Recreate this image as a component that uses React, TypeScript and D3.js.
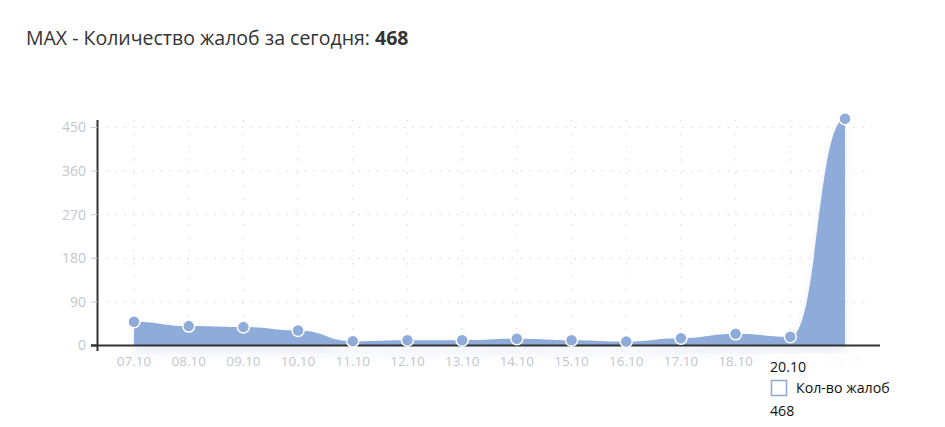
import React from "react";
import * as d3 from "d3";

const categories = ["07.10", "08.10", "09.10", "10.10", "11.10", "12.10", "13.10", "14.10", "15.10", "16.10", "17.10", "18.10", "19.10", "20.10"];
const complaints = [49, 40, 38, 31, 9, 11, 11, 14, 11, 8, 15, 24, 18, 468];
const yTicks = [0, 90, 180, 270, 360, 450];
const titleText = "MAX - Количество жалоб за сегодня: ";
const titleValue = "468";
const seriesName = "Кол-во жалоб";
const tooltipIndex = 13;

const W = 945;
const H = 427;
const BLUE = "#8eabd9";
const FONT = "'Open Sans', sans-serif";

export default function App() {
  const x = d3.scalePoint<string>().domain(categories).range([134, 845]);
  const y = d3.scaleLinear().domain([0, 450]).range([345.5, 127.5]);
  const pts = categories.map((c, i) => ({ c, v: complaints[i] }));
  const area = d3
    .area<{ c: string; v: number }>()
    .x((d) => x(d.c) as number)
    .y0(y(0))
    .y1((d) => y(d.v))
    .curve(d3.curveBumpX);

  const left = 97.5;
  const right = 872;
  return (
    <svg width={W} height={H} style={{ position: "absolute", left: 0, top: 0, display: "block" }} fontFamily={FONT}>
      <defs>
        <filter id="blur" x="-10%" y="-10%" width="120%" height="130%">
          <feGaussianBlur stdDeviation="5" />
        </filter>
      </defs>
      <rect width={W} height={H} fill="#fff" />
      <text x={26} y={45} fontSize={19.5} fill="#333">
        {titleText}
        <tspan fontWeight="bold">{titleValue}</tspan>
      </text>
      {/* grid */}
      {yTicks.filter((t) => t > 0).map((t) => (
        <line key={"h" + t} x1={left} x2={right} y1={y(t)} y2={y(t)} stroke="#dcdcdc" strokeWidth={1.2} strokeDasharray="1.5,7.5" />
      ))}
      {categories.map((c) => (
        <line key={"v" + c} x1={x(c)} x2={x(c)} y1={120} y2={345} stroke="#dcdcdc" strokeWidth={1.2} strokeDasharray="1.5,11.5" />
      ))}
      {/* shadow */}
      <path d={area(pts) || ""} fill="#7f96c8" opacity={0.18} transform="translate(0,7)" filter="url(#blur)" />
      {/* area */}
      <path d={area(pts) || ""} fill={BLUE} />
      {/* axes */}
      <line x1={91} x2={880} y1={345.5} y2={345.5} stroke="#333" strokeWidth={2} />
      <line x1={left} x2={left} y1={120} y2={351} stroke="#333" strokeWidth={2} />
      {yTicks.map((t) => (
        <g key={"yt" + t}>
          <line x1={91} x2={left} y1={y(t)} y2={y(t)} stroke={t === 0 ? "#333" : "#ccc"} strokeWidth={t === 0 ? 2 : 1} />
          <text x={86} y={y(t)} dy="0.35em" textAnchor="end" fontSize={14} fill="#c3c6cd">
            {t}
          </text>
        </g>
      ))}
      {categories.map((c) => (
        <text key={"xl" + c} x={x(c)} y={366} textAnchor="middle" fontSize={13.5} fill="#c3c6cd">
          {c}
        </text>
      ))}
      {/* points */}
      {pts.map((d) => (
        <circle key={"p" + d.c} cx={x(d.c)} cy={y(d.v)} r={6} fill={BLUE} stroke="#fff" strokeWidth={1.5} />
      ))}
      {/* tooltip */}
      <g>
        <rect x={762} y={354} width={145} height={73} fill="#fff" fillOpacity={0.9} />
        <text x={770} y={372} fontSize={14.2} fill="#111">
          {categories[tooltipIndex]}
        </text>
        <rect x={771.5} y={380.5} width={15} height={15} fill="#fff" stroke={BLUE} strokeWidth={1.5} />
        <text x={796} y={393} fontSize={14.2} fill="#111">
          {seriesName}
        </text>
        <text x={770} y={416} fontSize={14.2} fill="#111">
          {complaints[tooltipIndex]}
        </text>
      </g>
    </svg>
  );
}
